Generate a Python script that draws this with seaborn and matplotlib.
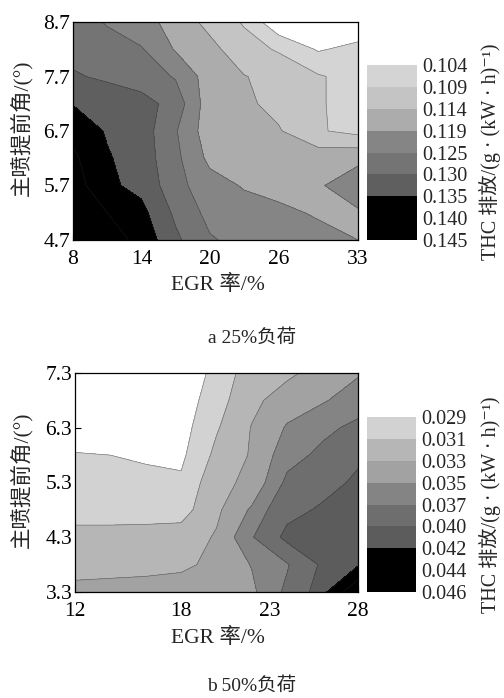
import numpy as np
import matplotlib
matplotlib.use('Agg')
import matplotlib.pyplot as plt
import seaborn as sns

sns.set_theme(style='ticks')
plt.rcParams['font.family'] = ['Liberation Serif', 'Noto Sans CJK SC', 'DejaVu Serif', 'DejaVu Sans']
plt.rcParams['axes.unicode_minus'] = False

# ---------------- data: panel a (25% load) ----------------
egr_a = [8, 11, 14, 17, 20, 23, 26, 29.5, 33]
angle_a = [4.7, 5.2, 5.7, 6.2, 6.7, 7.2, 7.7, 8.2, 8.7]
thc_a = [  # rows from angle 4.7 (bottom) to 8.7 (top)
    [0.1445, 0.1425, 0.1385, 0.1310, 0.1255, 0.1235, 0.1220, 0.1205, 0.1190],
    [0.1435, 0.1400, 0.1365, 0.1290, 0.1235, 0.1215, 0.1200, 0.1185, 0.1185],
    [0.1425, 0.1360, 0.1335, 0.1270, 0.1215, 0.1185, 0.1175, 0.1185, 0.1215],
    [0.1410, 0.1355, 0.1325, 0.1265, 0.1175, 0.1170, 0.1165, 0.1170, 0.1180],
    [0.1385, 0.1345, 0.1325, 0.1255, 0.1155, 0.1160, 0.1145, 0.1095, 0.1075],
    [0.1348, 0.1330, 0.1315, 0.1285, 0.1155, 0.1150, 0.1125, 0.1095, 0.1070],
    [0.1305, 0.1292, 0.1280, 0.1245, 0.1160, 0.1142, 0.1125, 0.1095, 0.1070],
    [0.1285, 0.1275, 0.1255, 0.1185, 0.1155, 0.1110, 0.1085, 0.1035, 0.1055],
    [0.1280, 0.1245, 0.1210, 0.1170, 0.1125, 0.1085, 0.1000, 0.0980, 0.1000],
]
levels_a = [0.104, 0.109, 0.114, 0.119, 0.125, 0.130, 0.135, 0.140, 0.145]
xticks_a = [8, 14, 20, 26, 33]
yticks_a = [4.7, 5.7, 6.7, 7.7, 8.7]

# ---------------- data: panel b (50% load) ----------------
egr_b = [12, 14, 16, 18, 20, 22, 24, 26, 28]
angle_b = [3.3, 3.8, 4.3, 4.8, 5.3, 5.8, 6.3, 6.8, 7.3]
thc_b = [  # rows from angle 3.3 (bottom) to 7.3 (top)
    [0.0336, 0.0337, 0.0338, 0.0340, 0.0342, 0.0346, 0.0375, 0.0415, 0.0458],
    [0.0322, 0.0323, 0.0324, 0.0326, 0.0335, 0.0351, 0.0368, 0.0405, 0.0418],
    [0.0318, 0.0318, 0.0318, 0.0319, 0.0332, 0.0368, 0.0408, 0.0410, 0.0415],
    [0.0300, 0.0300, 0.0301, 0.0302, 0.0326, 0.0353, 0.0391, 0.0404, 0.0412],
    [0.0298, 0.0298, 0.0296, 0.0293, 0.0324, 0.0335, 0.0375, 0.0390, 0.0405],
    [0.0292, 0.0290, 0.0287, 0.0286, 0.0315, 0.0332, 0.0362, 0.0375, 0.0395],
    [0.0272, 0.0272, 0.0275, 0.0282, 0.0308, 0.0331, 0.0352, 0.0365, 0.0375],
    [0.0265, 0.0265, 0.0268, 0.0278, 0.0302, 0.0325, 0.0340, 0.0348, 0.0360],
    [0.0260, 0.0260, 0.0260, 0.0265, 0.0300, 0.0318, 0.0326, 0.0338, 0.0348],
]
levels_b = [0.029, 0.031, 0.033, 0.035, 0.037, 0.040, 0.042, 0.044, 0.046]
xticks_b = [12, 18, 23, 28]
yticks_b = [3.3, 4.3, 5.3, 6.3, 7.3]

xlabel = 'EGR 率/%'
ylabel = '主喷提前角/(°)'
cblabel = 'THC 排放/(g · (kW · h)⁻¹)'
caption_a = 'a 25%负荷'
caption_b = 'b 50%负荷'

grays_a = ['#d4d4d4', '#c4c4c4', '#acacac', '#858585', '#747474', '#5f5f5f', '#000000', '#000000']
grays_b = ['#d2d2d2', '#b6b6b6', '#a2a2a2', '#848484', '#6e6e6e', '#5c5c5c', '#000000', '#000000']

FS = 15.5
CFS = 14.5
fig = plt.figure(figsize=(5.04, 6.98), dpi=100)
W, H = 504.0, 698.0


def box(l, t, r, b):
    return [l / W, 1 - b / H, (r - l) / W, (b - t) / H]


def panel(ax_box, cax_box, xs, ys, zs, levels, grays, xticks, yticks, cb_center_y):
    ax = fig.add_axes(box(*ax_box))
    cax = fig.add_axes(box(*cax_box))
    X, Y = np.meshgrid(np.array(xs, float), np.array(ys, float))
    Z = np.array(zs, float)
    cf = ax.contourf(X, Y, Z, levels=levels, colors=grays)
    ax.contour(X, Y, Z, levels=levels, colors='#2a2a2a', linewidths=0.45, alpha=0.55)
    ax.set_xlim(xs[0], xs[-1])
    ax.set_ylim(ys[0], ys[-1])
    ax.set_xticks(xticks)
    ax.set_yticks(yticks)
    ax.set_xticklabels([str(v) for v in xticks])
    ax.set_yticklabels([f'{v:.1f}' for v in yticks])
    ax.tick_params(direction='in', length=4, width=0.8, labelsize=FS, colors='black')
    ax.tick_params(axis='x', pad=7)
    ax.tick_params(axis='y', pad=2)
    for s in ax.spines.values():
        s.set_color('black')
        s.set_linewidth(0.9)
    ax.set_facecolor('white')
    cb = fig.colorbar(cf, cax=cax, ticks=levels)
    cax.invert_yaxis()
    cb.outline.set_visible(False)
    cax.tick_params(length=0, labelsize=CFS, pad=4)
    cax.set_yticklabels([f'{v:.3f}' for v in levels])
    fig.text(490 / W, 1 - cb_center_y / H, cblabel, rotation=90, ha='center', va='center', fontsize=CFS)
    return ax


ax1 = panel((73, 22, 358, 240), (367, 65, 417, 240), egr_a, angle_a, thc_a, levels_a, grays_a,
            xticks_a, yticks_a, 152)
ax2 = panel((75, 373, 358, 592), (367, 417, 416, 592), egr_b, angle_b, thc_b, levels_b, grays_b,
            xticks_b, yticks_b, 505)

fig.text(218 / W, 1 - 285 / H, xlabel, ha='center', va='center', fontsize=FS)
fig.text(218 / W, 1 - 638 / H, xlabel, ha='center', va='center', fontsize=FS)
fig.text(22 / W, 1 - 128 / H, ylabel, rotation=90, ha='center', va='center', fontsize=FS)
fig.text(22 / W, 1 - 480 / H, ylabel, rotation=90, ha='center', va='center', fontsize=FS)
fig.text(252 / W, 1 - 338 / H, caption_a, ha='center', va='center', fontsize=14)
fig.text(252 / W, 1 - 686 / H, caption_b, ha='center', va='center', fontsize=14)

fig.savefig('out.png', dpi=100, facecolor='white')
